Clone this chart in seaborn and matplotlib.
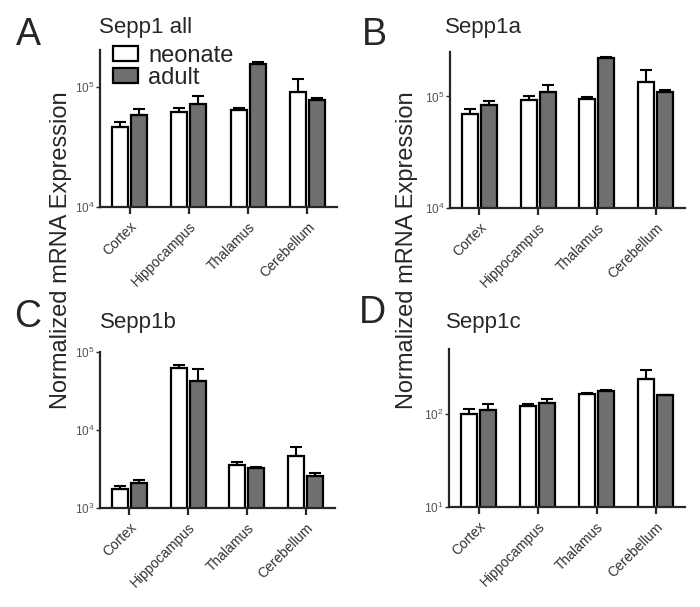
"""Sepp1 transcript levels (neonate vs adult) across brain regions, four log-scale bar panels."""
import matplotlib
matplotlib.use("Agg")
import matplotlib.pyplot as plt
import numpy as np
import pandas as pd
import seaborn as sns

regions = ["Cortex", "Hippocampus", "Thalamus", "Cerebellum"]
ages = ["neonate", "adult"]

# means and upper error (SEM)
all_neonate = [46400, 61500, 63900, 90900]
all_neonate_sem = [4400, 4900, 2900, 25700]
all_adult = [58800, 72600, 156400, 77400]
all_adult_sem = [7100, 11000, 5200, 3500]

a_neonate = [69500, 93300, 94000, 133300]
a_neonate_sem = [7600, 8100, 4600, 40000]
a_adult = [83500, 110100, 220300, 110100]
a_adult_sem = [7200, 16200, 3100, 4600]

b_neonate = [1770, 62500, 3510, 4650]
b_neonate_sem = [170, 5700, 350, 1420]
b_adult = [2080, 42700, 3300, 2540]
b_adult_sem = [200, 18500, 70, 230]

c_neonate = [101, 121, 166, 235]
c_neonate_sem = [12, 7, 3, 62]
c_adult = [111, 132, 176, 161]
c_adult_sem = [18, 13, 3, 1]

PANELS = [
    ("A", "Sepp1 all", all_neonate, all_neonate_sem, all_adult, all_adult_sem, (1e4, 2.04e5), [1e4, 1e5]),
    ("B", "Sepp1a", a_neonate, a_neonate_sem, a_adult, a_adult_sem, (1e4, 2.5e5), [1e4, 1e5]),
    ("C", "Sepp1b", b_neonate, b_neonate_sem, b_adult, b_adult_sem, (1e3, 1e5), [1e3, 1e4, 1e5]),
    ("D", "Sepp1c", c_neonate, c_neonate_sem, c_adult, c_adult_sem, (10, 500), [1e1, 1e2]),
]

# axes rectangles in figure pixels: left, top, right, bottom
W, H = 700, 607
BOXES = [(100, 50, 337, 207), (450, 52, 685, 208), (100, 352, 335, 508), (449, 349, 685, 507)]
LETTER_POS = [(16, 45), (362, 45), (14, 327), (359, 323)]
TITLE_POS = [(99, 33), (445, 33), (100, 328), (446, 328)]

BAR_COLORS = {"neonate": "white", "adult": "#6f6f6f"}

sns.set_style("ticks")
plt.rcParams["font.family"] = ["Liberation Sans", "DejaVu Sans"]
plt.rcParams["mathtext.fontset"] = "custom"
plt.rcParams["mathtext.rm"] = "Liberation Sans"


def fig_rect(box):
    l, t, r, b = box
    return [l / W, 1 - b / H, (r - l) / W, (b - t) / H]


def draw_panel(ax, neonate, neonate_sem, adult, adult_sem, ylim, yticks, legend):
    df = pd.DataFrame({
        "region": regions * 2,
        "age": ["neonate"] * 4 + ["adult"] * 4,
        "value": list(neonate) + list(adult),
    })
    ax.set_yscale("log")
    sns.barplot(data=df, x="region", y="value", hue="age", order=regions, hue_order=ages,
                palette=BAR_COLORS, width=0.64, gap=0.15, errorbar=None,
                edgecolor="black", linewidth=1.6, saturation=1, legend=legend, ax=ax)

    for container, sem in zip(ax.containers, [neonate_sem, adult_sem]):
        xs = [p.get_x() + p.get_width() / 2 for p in container.patches]
        ys = [p.get_height() for p in container.patches]
        ax.errorbar(xs, ys, yerr=[np.zeros(len(sem)), sem], fmt="none", ecolor="black",
                    elinewidth=1.5, capsize=4, capthick=1.5, zorder=1)

    ax.set_xlim(-0.5, 3.5)
    ax.set_ylim(*ylim)
    ax.set_yticks(yticks)
    ax.yaxis.set_minor_locator(matplotlib.ticker.NullLocator())
    ax.set_xlabel("")
    ax.set_ylabel("")
    sns.despine(ax=ax)
    for side in ["left", "bottom"]:
        ax.spines[side].set_linewidth(1.6)
    ax.tick_params(axis="x", length=5, width=1.6, labelsize=10, labelcolor="#333333", pad=4)
    ax.tick_params(axis="y", length=3, width=1.0, labelsize=8.5, labelcolor="#555555", pad=1)
    for lab in ax.get_xticklabels():
        lab.set_rotation(45)
        lab.set_ha("right")
        lab.set_rotation_mode("anchor")
    ax.set_facecolor("white")


def main():
    fig = plt.figure(figsize=(W / 100, H / 100), dpi=100)

    for i, (letter, title, nn, nn_sem, ad, ad_sem, ylim, yticks) in enumerate(PANELS):
        ax = fig.add_axes(fig_rect(BOXES[i]))
        draw_panel(ax, nn, nn_sem, ad, ad_sem, ylim, yticks, legend=(i == 0))
        if i == 0:
            sns.move_legend(ax, "upper left", bbox_to_anchor=(113 / W, 1 - 45 / H),
                            bbox_transform=fig.transFigure, frameon=False, title=None,
                            fontsize=17, handlelength=1.05, handleheight=0.6,
                            handletextpad=0.45, labelspacing=0.0, borderpad=0,
                            borderaxespad=0)
        lx, ly = LETTER_POS[i]
        fig.text(lx / W, 1 - ly / H, letter, fontsize=27, va="baseline", ha="left")
        tx, ty = TITLE_POS[i]
        fig.text(tx / W, 1 - ty / H, title, fontsize=16, va="baseline", ha="left")

    for x in (61, 407):
        fig.text(x / W, 1 - 250 / H, "Normalized mRNA Expression", rotation=90,
                 ha="center", va="center", fontsize=17)

    fig.savefig("out.png", dpi=100, facecolor="white")
    plt.close(fig)


if __name__ == "__main__":
    main()
